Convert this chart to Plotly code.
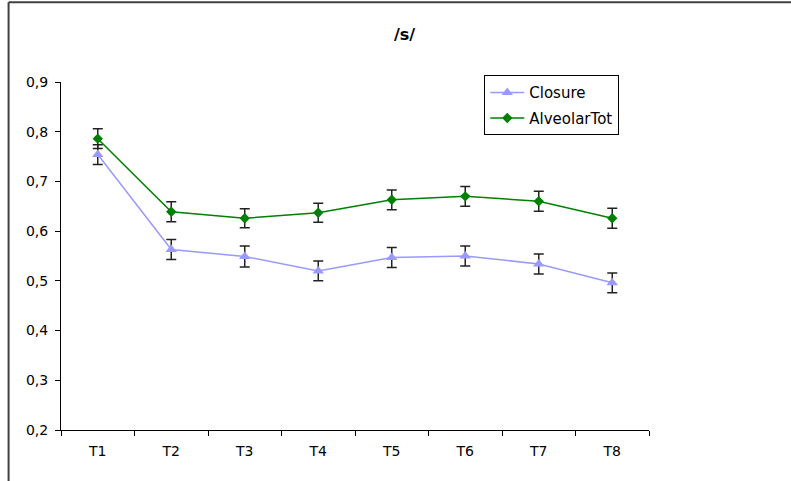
import plotly.graph_objects as go

categories = ["T1", "T2", "T3", "T4", "T5", "T6", "T7", "T8"]
closure = [0.754, 0.563, 0.549, 0.520, 0.547, 0.550, 0.534, 0.496]
closure_err = [0.020, 0.020, 0.021, 0.020, 0.020, 0.020, 0.020, 0.020]
alveolar = [0.786, 0.639, 0.626, 0.637, 0.663, 0.670, 0.660, 0.626]
alveolar_err = [0.020, 0.020, 0.019, 0.019, 0.020, 0.020, 0.020, 0.020]
y_ticks = [0.2, 0.3, 0.4, 0.5, 0.6, 0.7, 0.8, 0.9]
y_tick_labels = ["0,2", "0,3", "0,4", "0,5", "0,6", "0,7", "0,8", "0,9"]

FONT = "DejaVu Sans"
W, H = 791, 481
L, R, T, B = 60.5, 649.5, 81.7, 430.0

fig = go.Figure()
fig.add_trace(go.Scatter(
    x=categories, y=closure, name="Closure", mode="lines+markers",
    legendgroup="a",
    line=dict(color="#9999FF", width=1.5),
    marker=dict(symbol="triangle-up", size=10, color="#9999FF"),
    error_y=dict(type="data", array=closure_err, visible=True,
                 color="#222222", thickness=1.5, width=5),
))
fig.add_trace(go.Scatter(
    x=categories, y=alveolar, name="AlveolarTot", mode="lines+markers",
    legendgroup="b",
    line=dict(color="#008000", width=1.5),
    marker=dict(symbol="diamond", size=8, color="#008000"),
    error_y=dict(type="data", array=alveolar_err, visible=True,
                 color="#222222", thickness=1.5, width=5),
))

def px_x(p):
    return (p - L) / (R - L)

def px_y(p):
    return (B - p) / (B - T)

fig.update_layout(
    width=W, height=H,
    margin=dict(l=L, r=W - R, t=T, b=H - B, pad=0),
    paper_bgcolor="white", plot_bgcolor="white",
    font=dict(family=FONT, size=14, color="black"),
    title=dict(text="<b>/s/</b>", x=404.5 / W, xanchor="center",
               y=1 - 34 / H, yanchor="middle",
               font=dict(family=FONT, size=16, color="black")),
    showlegend=True,
    legend=dict(x=px_x(484.5), y=px_y(75), xanchor="left", yanchor="top",
                bordercolor="black", borderwidth=1, bgcolor="white",
                font=dict(family=FONT, size=15, color="black"),
                itemwidth=34,
                traceorder="grouped", tracegroupgap=3),
    xaxis=dict(type="category", range=[-0.5, 7.5], showline=True,
               linecolor="black", linewidth=1, ticks="outside",
               tickson="boundaries", ticklen=5, tickcolor="black",
               ticklabelstandoff=8,
               showgrid=False, zeroline=False,
               tickfont=dict(family=FONT, size=14, color="black")),
    yaxis=dict(range=[0.2, 0.9], tickvals=y_ticks, ticktext=y_tick_labels,
               showline=True, linecolor="black", linewidth=1,
               ticks="outside", ticklen=5, tickcolor="black",
               ticklabelstandoff=4,
               showgrid=False, zeroline=False,
               tickfont=dict(family=FONT, size=14, color="black")),
    shapes=[
        dict(type="line", xref="paper", yref="paper",
             x0=px_x(8), x1=px_x(8), y0=px_y(2), y1=px_y(490),
             line=dict(color="#404040", width=2)),
        dict(type="line", xref="paper", yref="paper",
             x0=px_x(8), x1=px_x(800), y0=px_y(2), y1=px_y(2),
             line=dict(color="#404040", width=2)),
    ],
)

fig.write_html("out.html",
               config={"displayModeBar": False},
               post_script="document.body.style.margin='0';document.body.style.overflow='hidden';")
